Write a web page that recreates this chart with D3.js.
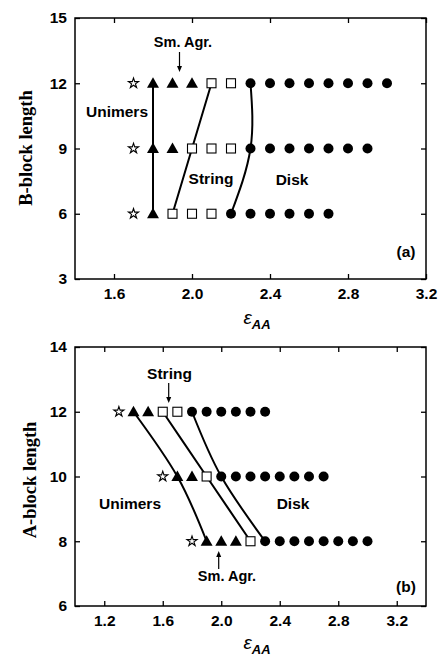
<html>
<head>
  <script src="https://d3js.org/d3.v7.min.js"></script>
  <style>
    body { margin: 0; background: #fff; }
    text { font-family: Arial, "Liberation Sans", sans-serif; fill: #000; }
  </style>
</head>
<body>
  <svg id="chart" width="440" height="658"></svg>
  <script>
    // panel (a): B-block length vs eps_AA
    const aStars = [[1.7, 6], [1.7, 9], [1.7, 12]];
    const aTriangles = [[1.8, 6], [1.8, 9], [1.9, 9], [1.8, 12], [1.9, 12], [2.0, 12]];
    const aSquares = [[1.9, 6], [2.0, 6], [2.1, 6], [2.0, 9], [2.1, 9], [2.2, 9], [2.1, 12], [2.2, 12]];
    const aCircles = [
      [2.2, 6], [2.3, 6], [2.4, 6], [2.5, 6], [2.6, 6], [2.7, 6],
      [2.3, 9], [2.4, 9], [2.5, 9], [2.6, 9], [2.7, 9], [2.8, 9], [2.9, 9],
      [2.3, 12], [2.4, 12], [2.5, 12], [2.6, 12], [2.7, 12], [2.8, 12], [2.9, 12], [3.0, 12]
    ];
    const aBoundaries = [
      [[1.8, 6], [1.8, 9], [1.8, 12]],
      [[1.9, 6], [2.0, 9], [2.1, 12]],
      [[2.2, 6], [2.3, 9], [2.3, 12]]
    ];
    const aXTicks = [1.6, 2.0, 2.4, 2.8, 3.2];
    const aYTicks = [3, 6, 9, 12, 15];

    // panel (b): A-block length vs eps_AA
    const bStars = [[1.3, 12], [1.6, 10], [1.8, 8]];
    const bTriangles = [[1.4, 12], [1.5, 12], [1.7, 10], [1.8, 10], [1.9, 8], [2.0, 8], [2.1, 8]];
    const bSquares = [[1.6, 12], [1.7, 12], [1.9, 10], [2.2, 8]];
    const bCircles = [
      [1.8, 12], [1.9, 12], [2.0, 12], [2.1, 12], [2.2, 12], [2.3, 12],
      [2.0, 10], [2.1, 10], [2.2, 10], [2.3, 10], [2.4, 10], [2.5, 10], [2.6, 10], [2.7, 10],
      [2.3, 8], [2.4, 8], [2.5, 8], [2.6, 8], [2.7, 8], [2.8, 8], [2.9, 8], [3.0, 8]
    ];
    const bBoundaries = [
      [[1.4, 12], [1.7, 10], [1.9, 8]],
      [[1.6, 12], [1.9, 10], [2.2, 8]],
      [[1.8, 12], [2.0, 10], [2.3, 8]]
    ];
    const bXTicks = [1.2, 1.6, 2.0, 2.4, 2.8, 3.2];
    const bYTicks = [6, 8, 10, 12, 14];

    const svg = d3.select("svg#chart");

    function drawPanel(p) {
      const x = d3.scaleLinear().domain(p.xDomain).range([75, 426]);
      const y = d3.scaleLinear().domain(p.yDomain).range([p.bottom, p.top]);
      const g = svg.append("g");
      const h = p.bottom - p.top;
      const w = 426 - 75;

      // axes, ticks inward on all four sides
      g.append("g").attr("transform", `translate(0,${p.bottom})`)
        .call(d3.axisBottom(x).tickValues(p.xTicks).tickSize(-5).tickPadding(9).tickFormat(d3.format(".1f")));
      g.append("g").attr("transform", `translate(0,${p.top})`)
        .call(d3.axisTop(x).tickValues(p.xTicks).tickSize(-5).tickFormat(""));
      g.append("g").attr("transform", `translate(75,0)`)
        .call(d3.axisLeft(y).tickValues(p.yTicks).tickSize(-5).tickPadding(8));
      g.append("g").attr("transform", `translate(426,0)`)
        .call(d3.axisRight(y).tickValues(p.yTicks).tickSize(-5).tickFormat(""));
      g.selectAll(".domain").remove();
      g.selectAll(".tick line").attr("stroke", "#000").attr("stroke-width", 1.3);
      g.selectAll(".tick text").style("font-size", "15.5px").style("font-weight", "bold")
        .style("font-family", "Arial, 'Liberation Sans', sans-serif");
      g.append("rect").attr("x", 75).attr("y", p.top).attr("width", w).attr("height", h)
        .attr("fill", "none").attr("stroke", "#000").attr("stroke-width", 1.5);

      // phase boundaries
      const line = d3.line().x(d => x(d[0])).y(d => y(d[1])).curve(d3.curveNatural);
      g.selectAll("path.bound").data(p.boundaries).join("path")
        .attr("class", "bound")
        .attr("d", line)
        .attr("fill", "none").attr("stroke", "#000").attr("stroke-width", 2);

      // markers
      g.selectAll("circle.disk").data(p.circles).join("circle")
        .attr("class", "disk")
        .attr("cx", d => x(d[0])).attr("cy", d => y(d[1])).attr("r", 5).attr("fill", "#000");
      g.selectAll("rect.str").data(p.squares).join("rect")
        .attr("class", "str")
        .attr("x", d => x(d[0]) - 4.5).attr("y", d => y(d[1]) - 4.5)
        .attr("width", 9).attr("height", 9)
        .attr("fill", "#fff").attr("stroke", "#000").attr("stroke-width", 1.1);
      g.selectAll("path.tri").data(p.triangles).join("path")
        .attr("class", "tri")
        .attr("transform", d => `translate(${x(d[0])},${y(d[1]) + 1})`)
        .attr("d", d3.symbol(d3.symbolTriangle, 62))
        .attr("fill", "#000");
      g.selectAll("path.star").data(p.stars).join("path")
        .attr("class", "star")
        .attr("transform", d => `translate(${x(d[0])},${y(d[1])})`)
        .attr("d", d3.symbol(d3.symbolStar, 32))
        .attr("fill", "#fff").attr("stroke", "#000").attr("stroke-width", 1.1);

      // phase labels
      p.labels.forEach(l => {
        g.append("text").attr("x", l.x).attr("y", l.y).attr("text-anchor", "middle")
          .style("font-size", l.size + "px").style("font-weight", "bold").text(l.t);
      });

      // arrow
      const ax = p.arrow[0], ay0 = p.arrow[1], ay1 = p.arrow[2];
      const dir = ay1 > ay0 ? 1 : -1;
      g.append("line").attr("x1", ax).attr("x2", ax).attr("y1", ay0).attr("y2", ay1 - dir * 5)
        .attr("stroke", "#000").attr("stroke-width", 1.2);
      g.append("path")
        .attr("d", `M${ax - 2.5},${ay1 - dir * 6}L${ax + 2.5},${ay1 - dir * 6}L${ax},${ay1}Z`)
        .attr("fill", "#000");

      // axis titles
      const xt = g.append("text").attr("x", 257).attr("y", p.xTitleY).attr("text-anchor", "middle")
        .style("font-style", "italic").style("font-size", "19px");
      xt.append("tspan").text("ε");
      xt.append("tspan").attr("dy", 5).style("font-size", "13px").style("font-weight", "bold").text("AA");

      g.append("text")
        .attr("transform", `translate(${p.yTitleX},${p.yTitleY}) rotate(-90)`)
        .attr("text-anchor", "middle")
        .style("font-family", "'Liberation Serif', 'Times New Roman', serif")
        .style("font-weight", "bold").style("font-size", "18.5px")
        .text(p.yTitle);
    }

    drawPanel({
      xDomain: [1.4, 3.2], yDomain: [3, 15], top: 18, bottom: 279,
      xTicks: aXTicks, yTicks: aYTicks,
      stars: aStars, triangles: aTriangles, squares: aSquares, circles: aCircles,
      boundaries: aBoundaries,
      labels: [
        { t: "Sm. Agr.", x: 183, y: 47, size: 14.5 },
        { t: "Unimers", x: 117, y: 117, size: 15.5 },
        { t: "String", x: 211, y: 184, size: 15.5 },
        { t: "Disk", x: 292, y: 185, size: 15.5 },
        { t: "(a)", x: 406, y: 257, size: 15.5 }
      ],
      arrow: [179.5, 52, 72],
      xTitleY: 324, yTitleX: 32, yTitleY: 148, yTitle: "B-block length"
    });

    drawPanel({
      xDomain: [1.0, 3.4], yDomain: [6, 14], top: 347, bottom: 606,
      xTicks: bXTicks, yTicks: bYTicks,
      stars: bStars, triangles: bTriangles, squares: bSquares, circles: bCircles,
      boundaries: bBoundaries,
      labels: [
        { t: "String", x: 169.5, y: 379, size: 15.5 },
        { t: "Unimers", x: 130, y: 509, size: 15.5 },
        { t: "Disk", x: 293, y: 509, size: 15.5 },
        { t: "Sm. Agr.", x: 227, y: 581, size: 14.5 },
        { t: "(b)", x: 406, y: 592, size: 15.5 }
      ],
      arrow: [168.7, 383, 403],
      xTitleY: 649, yTitleX: 36, yTitleY: 480, yTitle: "A-block length"
    });

    // second arrow in panel (b), pointing up at Sm. Agr.
    (function () {
      const ax = 218.7, ay0 = 569, ay1 = 551;
      svg.append("line").attr("x1", ax).attr("x2", ax).attr("y1", ay0).attr("y2", ay1 + 5)
        .attr("stroke", "#000").attr("stroke-width", 1.2);
      svg.append("path")
        .attr("d", `M${ax - 2.5},${ay1 + 6}L${ax + 2.5},${ay1 + 6}L${ax},${ay1}Z`)
        .attr("fill", "#000");
    })();
  </script>
</body>
</html>
